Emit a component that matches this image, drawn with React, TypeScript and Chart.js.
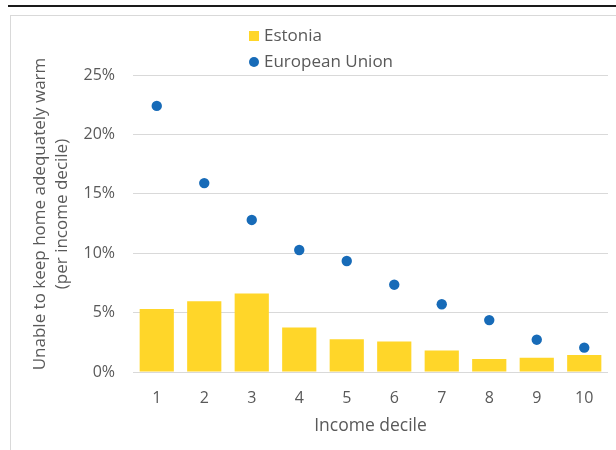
import React, { useEffect, useRef } from "react";
import { Chart, registerables } from "chart.js";

Chart.register(...registerables);

const categories = ["1", "2", "3", "4", "5", "6", "7", "8", "9", "10"];
const estonia = [5.3, 5.95, 6.6, 3.74, 2.75, 2.56, 1.8, 1.1, 1.2, 1.43];
const europeanUnion = [22.4, 15.9, 12.8, 10.27, 9.34, 7.35, 5.7, 4.37, 2.72, 2.05];
const seriesLabels = ["Estonia", "European Union"];
const yTitle = ["Unable to keep home adequately warm", "(per income decile)"];
const xTitle = "Income decile";

const YELLOW = "#FFD629";
const BLUE = "#176BB8";
const TEXT = "#595959";
const GRID = "#d9d9d9";
const FONT = "'Open Sans', 'Liberation Sans', sans-serif";

const legendPlugin = {
  id: "customLegend",
  afterDraw(chart: any) {
    const ctx = chart.ctx;
    const ds = chart.data.datasets;
    ctx.save();
    ctx.font = `17px ${FONT}`;
    ctx.textBaseline = "middle";
    // Estonia (square)
    ctx.fillStyle = ds[0].backgroundColor;
    ctx.fillRect(249, 31, 10, 10);
    ctx.fillStyle = TEXT;
    ctx.fillText(ds[0].label, 264, 36);
    // EU (circle)
    ctx.fillStyle = ds[1].backgroundColor;
    ctx.beginPath();
    ctx.arc(254, 62, 5, 0, Math.PI * 2);
    ctx.fill();
    ctx.fillStyle = TEXT;
    ctx.fillText(ds[1].label, 264, 62);

    // Y axis title (two lines, rotated)
    ctx.font = `17px ${FONT}`;
    ctx.fillStyle = TEXT;
    ctx.textAlign = "center";
    ctx.textBaseline = "middle";
    const cy = 214;
    yTitle.forEach((line: string, i: number) => {
      ctx.save();
      ctx.translate(40 + i * 22, cy);
      ctx.rotate(-Math.PI / 2);
      ctx.fillText(line, 0, 0);
      ctx.restore();
    });
    ctx.restore();
  },
};

function ChartView() {
  const ref = useRef<HTMLCanvasElement | null>(null);
  useEffect(() => {
    if (!ref.current) return;
    const chart = new Chart(ref.current, {
      type: "bar",
      data: {
        labels: categories,
        datasets: [
          {
            type: "bar",
            label: seriesLabels[0],
            data: estonia,
            backgroundColor: YELLOW,
            borderWidth: 0,
            order: 1,
          } as any,
          {
            type: "line",
            label: seriesLabels[1],
            data: europeanUnion,
            backgroundColor: BLUE,
            borderColor: BLUE,
            showLine: false,
            pointRadius: 5.2,
            pointBorderWidth: 0,
            order: 0,
          } as any,
        ],
      },
      options: {
        animation: false,
        responsive: false,
        layout: { padding: { left: 29, top: 75, right: 8, bottom: 13 } },
        plugins: {
          legend: { display: false },
          tooltip: { enabled: false },
        },
        scales: {
          x: {
            grid: { display: false },
            border: { display: false },
            ticks: { color: TEXT, font: { family: FONT, size: 16 }, padding: 9 },
            title: {
              display: true,
              text: xTitle,
              color: TEXT,
              font: { family: FONT, size: 17.5, lineHeight: 1.3 },
              padding: 0,
            },
            afterFit: (scale: any) => {
              scale.height = 65;
            },
          },
          y: {
            min: 0,
            max: 25,
            ticks: {
              stepSize: 5,
              color: TEXT,
              font: { family: FONT, size: 16 },
              padding: 18,
              callback: (v: any) => `${v}%`,
            },
            grid: { color: GRID, drawTicks: false, lineWidth: 1 },
            border: { display: false },
            title: { display: false },
            afterFit: (scale: any) => {
              scale.width = 104;
            },
          },
        },
      } as any,
      plugins: [legendPlugin],
    });
    return () => chart.destroy();
  }, []);
  return (
    <canvas
      ref={ref}
      width={616}
      height={450}
      style={{ position: "absolute", left: 0, top: 0, width: 616, height: 450 }}
    />
  );
}

export default function App() {
  return (
    <div style={{ position: "fixed", left: 0, top: 0, width: 616, height: 450, overflow: "hidden", background: "#fff" }}>
      <div style={{ position: "absolute", left: 8, top: 5, width: 608, height: 2, background: "#1a1a1a" }} />
      <div
        style={{
          position: "absolute",
          left: 10,
          top: 15,
          width: 620,
          height: 450,
          borderLeft: `1.5px solid ${GRID}`,
          borderTop: `1.5px solid ${GRID}`,
          boxSizing: "border-box",
        }}
      />
      <ChartView />
    </div>
  );
}
